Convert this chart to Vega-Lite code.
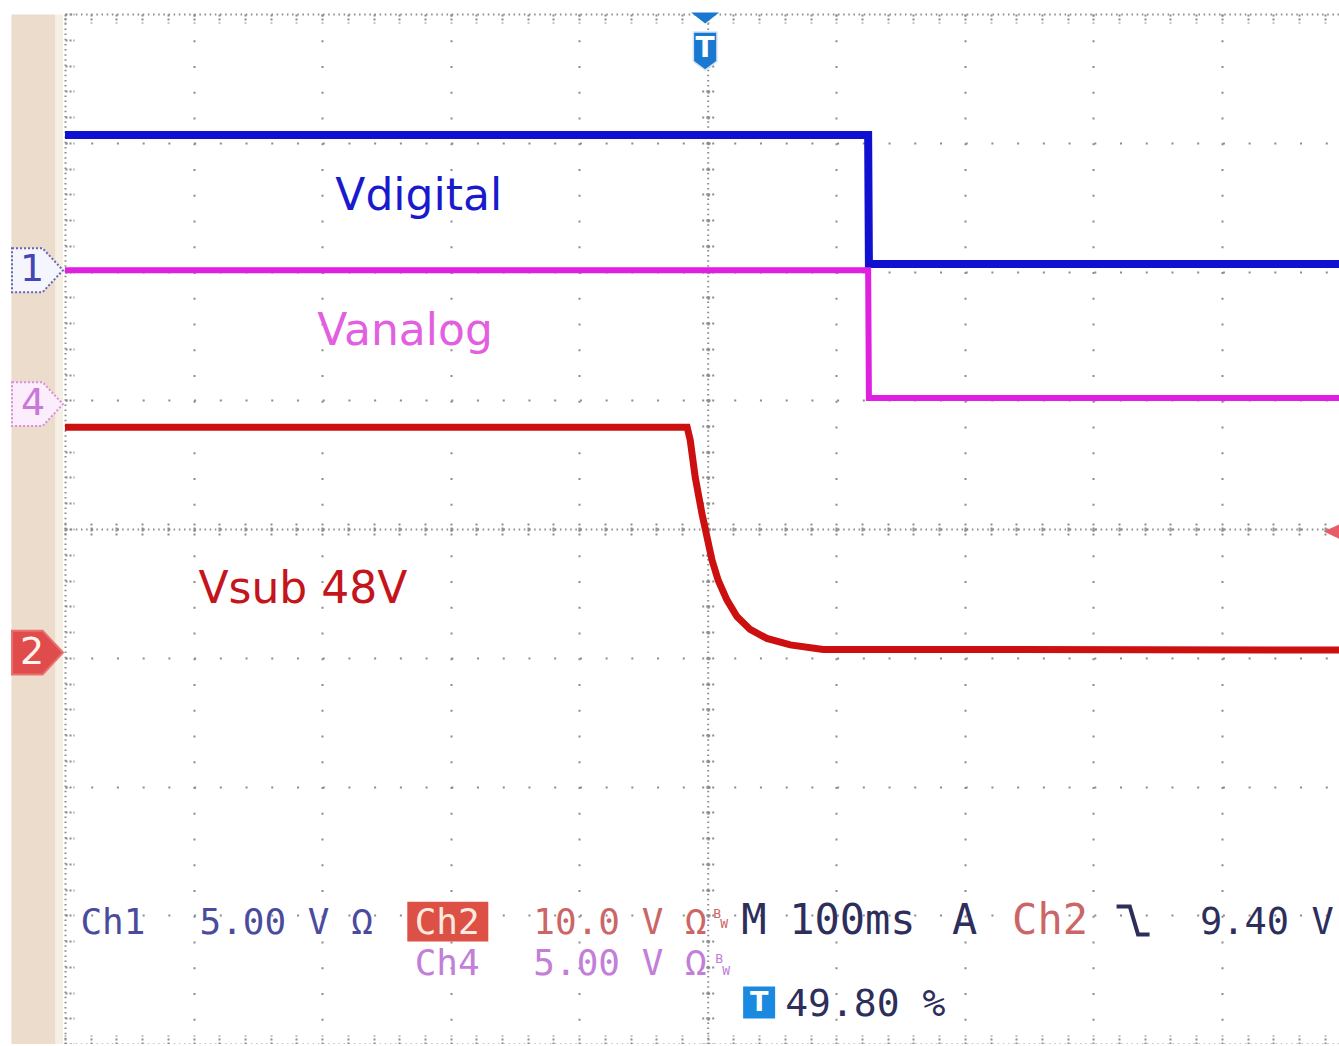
{
  "$schema": "https://vega.github.io/schema/vega-lite/v6.json",
  "width": 1274,
  "height": 1030,
  "padding": {"left": 65, "top": 14, "right": 0, "bottom": 0},
  "autosize": {"type": "none"},
  "background": "white",
  "config": {
    "view": {"stroke": null},
    "axis": {"labels": false, "ticks": false, "domain": false, "grid": false}
  },
  "datasets": {
    "ch1": [{"t": -500, "v": 5.25}, {"t": 124.8, "v": 5.25}, {"t": 125.4, "v": 0.24}, {"t": 491.1, "v": 0.24}],
    "ch4": [{"t": -500, "v": 5.2}, {"t": 124.8, "v": 5.2}, {"t": 125.4, "v": 0.24}, {"t": 491.1, "v": 0.24}],
    "ch2": [
      {"t": -500, "v": 17.5}, {"t": -16, "v": 17.5}, {"t": -13.6, "v": 16.5}, {"t": -9.7, "v": 13.6},
      {"t": -4.5, "v": 10.8}, {"t": -0.6, "v": 9.0}, {"t": 3.3, "v": 7.2}, {"t": 8.2, "v": 5.6},
      {"t": 14.9, "v": 4.1}, {"t": 22.7, "v": 2.8}, {"t": 33.0, "v": 1.8}, {"t": 46.0, "v": 1.1},
      {"t": 64.2, "v": 0.6}, {"t": 89.8, "v": 0.25}, {"t": 491.1, "v": 0.2}
    ],
    "ref1": [{"t": -500, "v": 0, "n": "1"}],
    "ref4": [{"t": -500, "v": 0, "n": "4"}],
    "ref2": [{"t": -500, "v": 0, "n": "2"}],
    "triglevel": [{"t": 491.1, "v": 9.4}],
    "badge": [{"t": -202.2, "d": -3.05}],
    "tbox": [{"t": 40, "d": -3.678, "text": "T"}],
    "trigger": [{"t": -2, "text": "T"}],
    "labels44": [
      {"text": "Vdigital", "t": -289.7, "d": 2.478, "src": "ch1-label"},
      {"text": "Vanalog", "t": -303.7, "d": 1.429, "src": "ch4-label"},
      {"text": "Vsub 48V", "t": -396.2, "d": -0.575, "src": "ch2-label"}
    ],
    "mono36": [
      {"text": "Ch1", "t": -488.0, "d": -3.146, "src": "ch1"},
      {"text": "Ch2", "t": -228.0, "d": -3.146, "src": "ch2-badge"},
      {"text": "Ch4", "t": -228.0, "d": -3.464, "src": "ch4"},
      {"text": "5.00 V Ω", "t": -395.4, "d": -3.146, "src": "ch1"},
      {"text": "10.0 V Ω", "t": -135.7, "d": -3.146, "src": "ch2"},
      {"text": "5.00 V Ω", "t": -135.7, "d": -3.464, "src": "ch4"}
    ],
    "mono42": [
      {"text": "M", "t": 26.0, "d": -3.146, "src": "scope"},
      {"text": "100ms", "t": 63.4, "d": -3.146, "src": "scope"},
      {"text": "A", "t": 190.1, "d": -3.146, "src": "scope"},
      {"text": "Ch2", "t": 236.8, "d": -3.146, "src": "ch2"}
    ],
    "mono37": [
      {"text": "9.40 V", "t": 383.0, "d": -3.146, "src": "scope"}
    ],
    "mono38": [{"text": "49.80 %", "t": 60.3, "d": -3.783, "src": "scope"}],
    "mono12": [
      {"text": "B", "t": 4.3, "d": -3.021, "src": "ch2"},
      {"text": "W", "t": 9.7, "d": -3.099, "src": "ch2"},
      {"text": "B", "t": 5.8, "d": -3.371, "src": "ch4"},
      {"text": "W", "t": 11.3, "d": -3.464, "src": "ch4"}
    ],
    "falling": [{"t": 330.9, "d": -3.04}]
  },
  "layer": [
    {
      "layer": [
        {
          "data": {"name": "badge"},
          "mark": {"type": "point", "shape": "M-1,-0.49L1,-0.49L1,0.49L-1,0.49Z", "size": 6561, "filled": true, "fill": "#dc5046", "opacity": 1, "strokeWidth": 0},
          "encoding": {
            "x": {"field": "t", "type": "quantitative", "scale": {"domain": [-500, 491.1], "nice": false, "zero": false},
              "axis": {"orient": "bottom", "values": [-400, -300, -200, -100, 0, 100, 200, 300, 400], "grid": true, "gridColor": "#8c8c8c", "gridWidth": 2, "gridDash": [2, 23.75], "title": null}},
            "y": {"field": "d", "type": "quantitative", "scale": {"domain": [-4, 4], "nice": false, "zero": false},
              "axis": {"orient": "left", "values": [-3, -2, -1, 0, 1, 2, 3], "grid": true, "gridColor": "#8c8c8c", "gridWidth": 2, "gridDash": [2, 23.72], "title": null}}
          }
        },
        {
          "data": {"name": "tbox"},
          "mark": {"type": "point", "shape": "square", "size": 1024, "filled": true, "fill": "#1a8ae0", "opacity": 1, "strokeWidth": 0},
          "encoding": {
            "x": {"field": "t", "type": "quantitative", "scale": {"domain": [-500, 491.1], "nice": false, "zero": false},
              "axis": {"orient": "bottom", "values": [-500,-480,-460,-440,-420,-400,-380,-360,-340,-320,-300,-280,-260,-240,-220,-200,-180,-160,-140,-120,-100,-80,-60,-40,-20,0,20,40,60,80,100,120,140,160,180,200,220,240,260,280,300,320,340,360,380,400,420,440,460,480],
                "ticks": true, "tickSize": -9, "tickColor": "#8c8c8c", "tickWidth": 2, "tickDash": [2, 2],
                "domain": true, "domainColor": "#8c8c8c", "domainWidth": 2, "domainDash": [1.5, 3.65], "title": null}},
            "y": {"field": "d", "type": "quantitative", "scale": {"domain": [-4, 4], "nice": false, "zero": false},
              "axis": {"orient": "left", "values": [-4,-3.8,-3.6,-3.4,-3.2,-3,-2.8,-2.6,-2.4,-2.2,-2,-1.8,-1.6,-1.4,-1.2,-1,-0.8,-0.6,-0.4,-0.2,0,0.2,0.4,0.6,0.8,1,1.2,1.4,1.6,1.8,2,2.2,2.4,2.6,2.8,3,3.2,3.4,3.6,3.8,4],
                "ticks": true, "tickSize": -9, "tickColor": "#8c8c8c", "tickWidth": 2, "tickDash": [2, 2],
                "domain": true, "domainColor": "#8c8c8c", "domainWidth": 2, "domainDash": [1.5, 3.65], "title": null}}
          }
        },
        {
          "data": {"name": "trigger"},
          "mark": {"type": "point", "shape": "M-1,-0.4L1,-0.4L0,0.4Z", "size": 784, "filled": true, "fill": "#1a78d0", "opacity": 1, "strokeWidth": 0, "yOffset": 4},
          "encoding": {
            "x": {"field": "t", "type": "quantitative", "scale": {"domain": [-500, 491.1], "nice": false, "zero": false},
              "axis": {"orient": "top", "values": [-500,-480,-460,-440,-420,-400,-380,-360,-340,-320,-300,-280,-260,-240,-220,-200,-180,-160,-140,-120,-100,-80,-60,-40,-20,0,20,40,60,80,100,120,140,160,180,200,220,240,260,280,300,320,340,360,380,400,420,440,460,480],
                "ticks": true, "tickSize": -9, "tickColor": "#8c8c8c", "tickWidth": 2, "tickDash": [2, 2],
                "domain": true, "domainColor": "#8c8c8c", "domainWidth": 2, "domainDash": [1.5, 3.65], "title": null}},
            "y": {"datum": 4, "type": "quantitative", "scale": {"domain": [-4, 4], "nice": false, "zero": false}, "axis": null}
          }
        },
        {
          "data": {"name": "trigger"},
          "mark": {"type": "point", "shape": "M-0.62,-1L0.62,-1L0.62,0.55L0,1L-0.62,0.55Z", "size": 1444, "filled": true, "fill": "#1a78d0", "opacity": 1, "stroke": "#cfe3f7", "strokeWidth": 1.5, "yOffset": 37},
          "encoding": {
            "x": {"field": "t", "type": "quantitative", "scale": {"domain": [-500, 491.1], "nice": false, "zero": false},
              "axis": {"orient": "bottom", "offset": -515, "values": [-500,-480,-460,-440,-420,-400,-380,-360,-340,-320,-300,-280,-260,-240,-220,-200,-180,-160,-140,-120,-100,-80,-60,-40,-20,0,20,40,60,80,100,120,140,160,180,200,220,240,260,280,300,320,340,360,380,400,420,440,460,480],
                "ticks": true, "tickSize": 8, "tickColor": "#8c8c8c", "tickWidth": 2, "tickDash": [2, 2],
                "domain": true, "domainColor": "#8c8c8c", "domainWidth": 2, "domainDash": [1.5, 3.65], "title": null}},
            "y": {"datum": 4, "type": "quantitative", "scale": {"domain": [-4, 4], "nice": false, "zero": false}, "axis": null}
          }
        },
        {
          "data": {"name": "trigger"},
          "mark": {"type": "text", "font": "DejaVu Sans", "fontSize": 28, "fontWeight": "bold", "color": "white", "align": "center", "baseline": "middle", "yOffset": 35},
          "encoding": {
            "x": {"field": "t", "type": "quantitative", "scale": {"domain": [-500, 491.1], "nice": false, "zero": false},
              "axis": {"orient": "bottom", "offset": -515, "values": [-500,-480,-460,-440,-420,-400,-380,-360,-340,-320,-300,-280,-260,-240,-220,-200,-180,-160,-140,-120,-100,-80,-60,-40,-20,0,20,40,60,80,100,120,140,160,180,200,220,240,260,280,300,320,340,360,380,400,420,440,460,480],
                "ticks": true, "tickSize": -8, "tickColor": "#8c8c8c", "tickWidth": 2, "tickDash": [2, 2], "title": null}},
            "y": {"datum": 4, "type": "quantitative", "scale": {"domain": [-4, 4], "nice": false, "zero": false}, "axis": null},
            "text": {"field": "text"}
          }
        },
        {
          "data": {"name": "labels44"},
          "mark": {"type": "text", "font": "DejaVu Sans", "fontSize": 44, "align": "left", "baseline": "alphabetic"},
          "encoding": {
            "x": {"field": "t", "type": "quantitative", "scale": {"domain": [-500, 491.1], "nice": false, "zero": false}, "axis": null},
            "y": {"field": "d", "type": "quantitative", "scale": {"domain": [-4, 4], "nice": false, "zero": false},
              "axis": {"orient": "left", "offset": -642.7, "values": [-4,-3.8,-3.6,-3.4,-3.2,-3,-2.8,-2.6,-2.4,-2.2,-2,-1.8,-1.6,-1.4,-1.2,-1,-0.8,-0.6,-0.4,-0.2,0,0.2,0.4,0.6,0.8,1,1.2,1.4,1.6,1.8,2,2.2,2.4,2.6,2.8,3,3.2,3.4,3.6,3.8,4],
                "ticks": true, "tickSize": 8, "tickColor": "#8c8c8c", "tickWidth": 2, "tickDash": [2, 2],
                "domain": true, "domainColor": "#8c8c8c", "domainWidth": 2, "domainDash": [1.5, 3.65], "title": null}},
            "text": {"field": "text"},
            "color": {"field": "src", "type": "nominal", "legend": null,
              "scale": {"domain": ["ch1-label", "ch4-label", "ch2-label", "ch1", "ch2", "ch2-badge", "ch4", "scope"],
                        "range": ["#1a1acd", "#e25fe2", "#c4141c", "#4b4b9e", "#cc6666", "#fdeadf", "#c27ed8", "#2e2e5c"]}}
          }
        },
        {
          "data": {"name": "mono36"},
          "mark": {"type": "text", "font": "DejaVu Sans Mono", "fontSize": 36, "align": "left", "baseline": "alphabetic"},
          "encoding": {
            "x": {"field": "t", "type": "quantitative", "scale": {"domain": [-500, 491.1], "nice": false, "zero": false}, "axis": null},
            "y": {"field": "d", "type": "quantitative", "scale": {"domain": [-4, 4], "nice": false, "zero": false},
              "axis": {"orient": "left", "offset": -642.7, "values": [-4,-3.8,-3.6,-3.4,-3.2,-3,-2.8,-2.6,-2.4,-2.2,-2,-1.8,-1.6,-1.4,-1.2,-1,-0.8,-0.6,-0.4,-0.2,0,0.2,0.4,0.6,0.8,1,1.2,1.4,1.6,1.8,2,2.2,2.4,2.6,2.8,3,3.2,3.4,3.6,3.8,4],
                "ticks": true, "tickSize": -8, "tickColor": "#8c8c8c", "tickWidth": 2, "tickDash": [2, 2], "title": null}},
            "text": {"field": "text"},
            "color": {"field": "src", "type": "nominal", "legend": null,
              "scale": {"domain": ["ch1-label", "ch4-label", "ch2-label", "ch1", "ch2", "ch2-badge", "ch4", "scope"],
                        "range": ["#1a1acd", "#e25fe2", "#c4141c", "#4b4b9e", "#cc6666", "#fdeadf", "#c27ed8", "#2e2e5c"]}}
          }
        },
        {
          "data": {"name": "mono42"},
          "mark": {"type": "text", "font": "DejaVu Sans Mono", "fontSize": 42, "align": "left", "baseline": "alphabetic"},
          "encoding": {
            "x": {"field": "t", "type": "quantitative", "scale": {"domain": [-500, 491.1], "nice": false, "zero": false}, "axis": null},
            "y": {"field": "d", "type": "quantitative", "scale": {"domain": [-4, 4], "nice": false, "zero": false},
              "axis": {"orient": "left", "offset": 32, "domain": true, "domainColor": "#ecdccb", "domainWidth": 44, "title": null}},
            "text": {"field": "text"},
            "color": {"field": "src", "type": "nominal", "legend": null,
              "scale": {"domain": ["ch1-label", "ch4-label", "ch2-label", "ch1", "ch2", "ch2-badge", "ch4", "scope"],
                        "range": ["#1a1acd", "#e25fe2", "#c4141c", "#4b4b9e", "#cc6666", "#fdeadf", "#c27ed8", "#2e2e5c"]}}
          }
        },
        {
          "data": {"name": "mono37"},
          "mark": {"type": "text", "font": "DejaVu Sans Mono", "fontSize": 37, "align": "left", "baseline": "alphabetic"},
          "encoding": {
            "x": {"field": "t", "type": "quantitative", "scale": {"domain": [-500, 491.1], "nice": false, "zero": false}, "axis": null},
            "y": {"field": "d", "type": "quantitative", "scale": {"domain": [-4, 4], "nice": false, "zero": false},
              "axis": {"orient": "left", "offset": 6, "domain": true, "domainColor": "#f6efe4", "domainWidth": 7, "title": null}},
            "text": {"field": "text"},
            "color": {"field": "src", "type": "nominal", "legend": null,
              "scale": {"domain": ["ch1-label", "ch4-label", "ch2-label", "ch1", "ch2", "ch2-badge", "ch4", "scope"],
                        "range": ["#1a1acd", "#e25fe2", "#c4141c", "#4b4b9e", "#cc6666", "#fdeadf", "#c27ed8", "#2e2e5c"]}}
          }
        },
        {
          "data": {"name": "mono38"},
          "mark": {"type": "text", "font": "DejaVu Sans Mono", "fontSize": 38, "align": "left", "baseline": "alphabetic"},
          "encoding": {
            "x": {"field": "t", "type": "quantitative", "scale": {"domain": [-500, 491.1], "nice": false, "zero": false}, "axis": null},
            "y": {"field": "d", "type": "quantitative", "scale": {"domain": [-4, 4], "nice": false, "zero": false}, "axis": null},
            "text": {"field": "text"},
            "color": {"field": "src", "type": "nominal", "legend": null,
              "scale": {"domain": ["ch1-label", "ch4-label", "ch2-label", "ch1", "ch2", "ch2-badge", "ch4", "scope"],
                        "range": ["#1a1acd", "#e25fe2", "#c4141c", "#4b4b9e", "#cc6666", "#fdeadf", "#c27ed8", "#2e2e5c"]}}
          }
        },
        {
          "data": {"name": "mono12"},
          "mark": {"type": "text", "font": "DejaVu Sans Mono", "fontSize": 13, "align": "left", "baseline": "alphabetic"},
          "encoding": {
            "x": {"field": "t", "type": "quantitative", "scale": {"domain": [-500, 491.1], "nice": false, "zero": false}, "axis": null},
            "y": {"field": "d", "type": "quantitative", "scale": {"domain": [-4, 4], "nice": false, "zero": false}, "axis": null},
            "text": {"field": "text"},
            "color": {"field": "src", "type": "nominal", "legend": null,
              "scale": {"domain": ["ch1-label", "ch4-label", "ch2-label", "ch1", "ch2", "ch2-badge", "ch4", "scope"],
                        "range": ["#1a1acd", "#e25fe2", "#c4141c", "#4b4b9e", "#cc6666", "#fdeadf", "#c27ed8", "#2e2e5c"]}}
          }
        },
        {
          "data": {"name": "tbox"},
          "mark": {"type": "text", "font": "DejaVu Sans", "fontSize": 27, "fontWeight": "bold", "color": "white", "align": "center", "baseline": "middle"},
          "encoding": {
            "x": {"field": "t", "type": "quantitative", "scale": {"domain": [-500, 491.1], "nice": false, "zero": false}, "axis": null},
            "y": {"field": "d", "type": "quantitative", "scale": {"domain": [-4, 4], "nice": false, "zero": false}, "axis": null},
            "text": {"field": "text"}
          }
        },
        {
          "data": {"name": "falling"},
          "mark": {"type": "point", "shape": "M-1,-0.85L-0.2,-0.85L0.3,0.85L1,0.85", "size": 1089, "filled": false, "stroke": "#2e2e5c", "strokeWidth": 4, "opacity": 1},
          "encoding": {
            "x": {"field": "t", "type": "quantitative", "scale": {"domain": [-500, 491.1], "nice": false, "zero": false}, "axis": null},
            "y": {"field": "d", "type": "quantitative", "scale": {"domain": [-4, 4], "nice": false, "zero": false}, "axis": null}
          }
        }
      ],
      "resolve": {"axis": {"x": "independent", "y": "independent"}}
    },
    {
      "layer": [
        {
          "data": {"name": "ch1"},
          "mark": {"type": "line", "color": "#1010d0", "strokeWidth": 8},
          "encoding": {
            "x": {"field": "t", "type": "quantitative", "scale": {"domain": [-500, 491.1], "nice": false, "zero": false}, "axis": null},
            "y": {"field": "v", "type": "quantitative", "scale": {"domain": [-30.05, 9.95], "nice": false, "zero": false}, "axis": null}
          }
        },
        {
          "data": {"name": "ref1"},
          "mark": {"type": "point", "shape": "M-1,-0.86L0.2,-0.86L1,0L0.2,0.86L-1,0.86Z", "size": 2601, "filled": true, "fill": "#f5f5fd", "stroke": "#6464b4", "strokeWidth": 2, "strokeDash": [2, 2], "opacity": 1, "xOffset": -27.5},
          "encoding": {
            "x": {"field": "t", "type": "quantitative", "scale": {"domain": [-500, 491.1], "nice": false, "zero": false}, "axis": null},
            "y": {"field": "v", "type": "quantitative", "scale": {"domain": [-30.05, 9.95], "nice": false, "zero": false}, "axis": null}
          }
        },
        {
          "data": {"name": "ref1"},
          "mark": {"type": "text", "font": "DejaVu Sans", "fontSize": 38, "color": "#4545b5", "align": "center", "baseline": "middle", "xOffset": -33},
          "encoding": {
            "x": {"field": "t", "type": "quantitative", "scale": {"domain": [-500, 491.1], "nice": false, "zero": false}, "axis": null},
            "y": {"field": "v", "type": "quantitative", "scale": {"domain": [-30.05, 9.95], "nice": false, "zero": false}, "axis": null},
            "text": {"field": "n"}
          }
        }
      ]
    },
    {
      "layer": [
        {
          "data": {"name": "ch4"},
          "mark": {"type": "line", "color": "#e020e0", "strokeWidth": 6},
          "encoding": {
            "x": {"field": "t", "type": "quantitative", "scale": {"domain": [-500, 491.1], "nice": false, "zero": false}, "axis": null},
            "y": {"field": "v", "type": "quantitative", "scale": {"domain": [-24.85, 15.15], "nice": false, "zero": false}, "axis": null}
          }
        },
        {
          "data": {"name": "ref4"},
          "mark": {"type": "point", "shape": "M-1,-0.86L0.2,-0.86L1,0L0.2,0.86L-1,0.86Z", "size": 2601, "filled": true, "fill": "#fcedfc", "stroke": "#d88ee0", "strokeWidth": 2, "strokeDash": [2, 2], "opacity": 1, "xOffset": -27.5},
          "encoding": {
            "x": {"field": "t", "type": "quantitative", "scale": {"domain": [-500, 491.1], "nice": false, "zero": false}, "axis": null},
            "y": {"field": "v", "type": "quantitative", "scale": {"domain": [-24.85, 15.15], "nice": false, "zero": false}, "axis": null}
          }
        },
        {
          "data": {"name": "ref4"},
          "mark": {"type": "text", "font": "DejaVu Sans", "fontSize": 38, "color": "#c878d8", "align": "center", "baseline": "middle", "xOffset": -32},
          "encoding": {
            "x": {"field": "t", "type": "quantitative", "scale": {"domain": [-500, 491.1], "nice": false, "zero": false}, "axis": null},
            "y": {"field": "v", "type": "quantitative", "scale": {"domain": [-24.85, 15.15], "nice": false, "zero": false}, "axis": null},
            "text": {"field": "n"}
          }
        }
      ]
    },
    {
      "layer": [
        {
          "data": {"name": "ch2"},
          "mark": {"type": "line", "color": "#cc1010", "strokeWidth": 7},
          "encoding": {
            "x": {"field": "t", "type": "quantitative", "scale": {"domain": [-500, 491.1], "nice": false, "zero": false}, "axis": null},
            "y": {"field": "v", "type": "quantitative", "scale": {"domain": [-30.4, 49.6], "nice": false, "zero": false}, "axis": null}
          }
        },
        {
          "data": {"name": "ref2"},
          "mark": {"type": "point", "shape": "M-1,-0.86L0.2,-0.86L1,0L0.2,0.86L-1,0.86Z", "size": 2601, "filled": true, "fill": "#e04c4c", "stroke": "#ea7070", "strokeWidth": 2, "opacity": 1, "xOffset": -27.5},
          "encoding": {
            "x": {"field": "t", "type": "quantitative", "scale": {"domain": [-500, 491.1], "nice": false, "zero": false}, "axis": null},
            "y": {"field": "v", "type": "quantitative", "scale": {"domain": [-30.4, 49.6], "nice": false, "zero": false}, "axis": null}
          }
        },
        {
          "data": {"name": "ref2"},
          "mark": {"type": "text", "font": "DejaVu Sans", "fontSize": 38, "color": "#fff4ee", "align": "center", "baseline": "middle", "xOffset": -33},
          "encoding": {
            "x": {"field": "t", "type": "quantitative", "scale": {"domain": [-500, 491.1], "nice": false, "zero": false}, "axis": null},
            "y": {"field": "v", "type": "quantitative", "scale": {"domain": [-30.4, 49.6], "nice": false, "zero": false}, "axis": null},
            "text": {"field": "n"}
          }
        },
        {
          "data": {"name": "triglevel"},
          "mark": {"type": "point", "shape": "M1,-0.75L-0.6,0L1,0.75Z", "size": 576, "filled": true, "fill": "#e85c68", "opacity": 1, "strokeWidth": 0, "xOffset": -8},
          "encoding": {
            "x": {"field": "t", "type": "quantitative", "scale": {"domain": [-500, 491.1], "nice": false, "zero": false}, "axis": null},
            "y": {"field": "v", "type": "quantitative", "scale": {"domain": [-30.4, 49.6], "nice": false, "zero": false}, "axis": null}
          }
        }
      ]
    }
  ],
  "resolve": {"scale": {"y": "independent"}, "axis": {"x": "independent", "y": "independent"}}
}
